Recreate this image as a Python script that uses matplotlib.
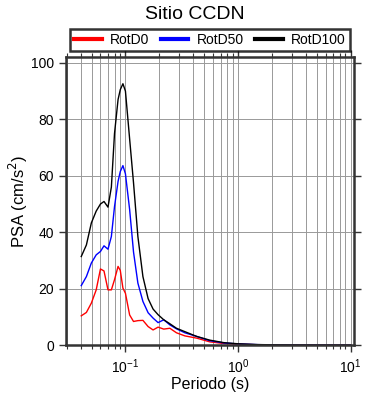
import matplotlib
matplotlib.use("Agg")
import matplotlib.pyplot as plt
from matplotlib.ticker import LogLocator, MultipleLocator, NullFormatter

plt.rcParams['font.family'] = ['Liberation Sans', 'DejaVu Sans']

period = [0.0405, 0.045, 0.0498, 0.055, 0.06, 0.0645, 0.07, 0.075, 0.080, 0.086,
          0.090, 0.095, 0.100, 0.109, 0.118, 0.129, 0.143, 0.159, 0.176, 0.195,
          0.219, 0.248, 0.284, 0.337, 0.43, 0.56, 0.75, 1.0, 1.5, 2.0, 3.0,
          5.0, 7.0, 10.0]
rotd0 = [10.4, 11.6, 14.9, 19.6, 27.0, 26.3, 19.6, 19.6, 23.2, 27.9,
         26.5, 20.2, 18.4, 10.7, 8.4, 8.7, 8.8, 6.6, 5.4, 6.4,
         5.7, 6.0, 4.4, 3.3, 2.5, 1.2, 0.6, 0.35, 0.15, 0.1, 0.05,
         0.03, 0.02, 0.01]
rotd50 = [21.1, 24.3, 29.1, 32.0, 33.2, 35.2, 34.0, 38.5, 49.1, 58.0,
          61.5, 63.6, 60.7, 48.0, 33.0, 22.0, 15.5, 11.5, 9.6, 8.0,
          9.0, 7.2, 5.8, 4.4, 3.1, 1.6, 0.8, 0.45, 0.2, 0.12, 0.06,
          0.04, 0.02, 0.01]
rotd100 = [31.4, 35.5, 43.3, 47.5, 50.0, 50.9, 48.9, 56.0, 75.0, 87.0,
           90.5, 92.6, 90.0, 73.0, 57.5, 38.5, 24.3, 16.5, 12.8, 10.8,
           9.0, 7.6, 6.0, 4.8, 3.1, 1.8, 0.9, 0.5, 0.22, 0.14, 0.07,
           0.04, 0.03, 0.02]
labels = ['RotD0', 'RotD50', 'RotD100']
colors = ['#ff0000', '#0000ff', '#000000']

fig = plt.figure(figsize=(3.9, 4.0), dpi=100)
ax = fig.add_axes([0.169, 0.137, 0.739, 0.720])

for vals, lab, c in zip([rotd0, rotd50, rotd100], labels, colors):
    ax.plot(period, vals, color=c, lw=1.0, label=lab)

ax.set_xscale('log')
ax.set_xlim(0.0296, 10.75)
ax.set_ylim(0, 102)
ax.xaxis.set_major_locator(LogLocator(base=10, numticks=10))
ax.xaxis.set_minor_locator(LogLocator(base=10, subs=range(2, 10), numticks=20))
ax.xaxis.set_minor_formatter(NullFormatter())
ax.yaxis.set_major_locator(MultipleLocator(20))

ax.grid(True, which='both', axis='x', color='#999999', lw=0.7)
ax.grid(True, which='major', axis='y', color='#999999', lw=0.7)
ax.set_axisbelow(True)

for s in ax.spines.values():
    s.set_linewidth(1.8)
    s.set_color('#333333')

ax.tick_params(which='both', direction='out', top=True, right=True,
               color='#333333', labelsize=10)
ax.tick_params(which='major', length=5, width=1.0)
ax.tick_params(which='minor', length=3, width=0.8)

ax.set_xlabel('Periodo (s)', fontsize=11.5, labelpad=1)
ax.set_ylabel('PSA (cm/s$^2$)', fontsize=12, labelpad=1)
fig.suptitle('Sitio CCDN', fontsize=14, y=0.985)

leg = ax.legend(loc='lower center', bbox_to_anchor=(0.5, 1.012), ncol=3,
                frameon=True, fancybox=False, edgecolor='black', fontsize=10,
                handlelength=2.0, handletextpad=0.6, columnspacing=0.8,
                borderpad=0.3, borderaxespad=0.2)
leg.get_frame().set_linewidth(1.8)
for line in leg.get_lines():
    line.set_linewidth(3)

fig.savefig('out.png', dpi=100)
